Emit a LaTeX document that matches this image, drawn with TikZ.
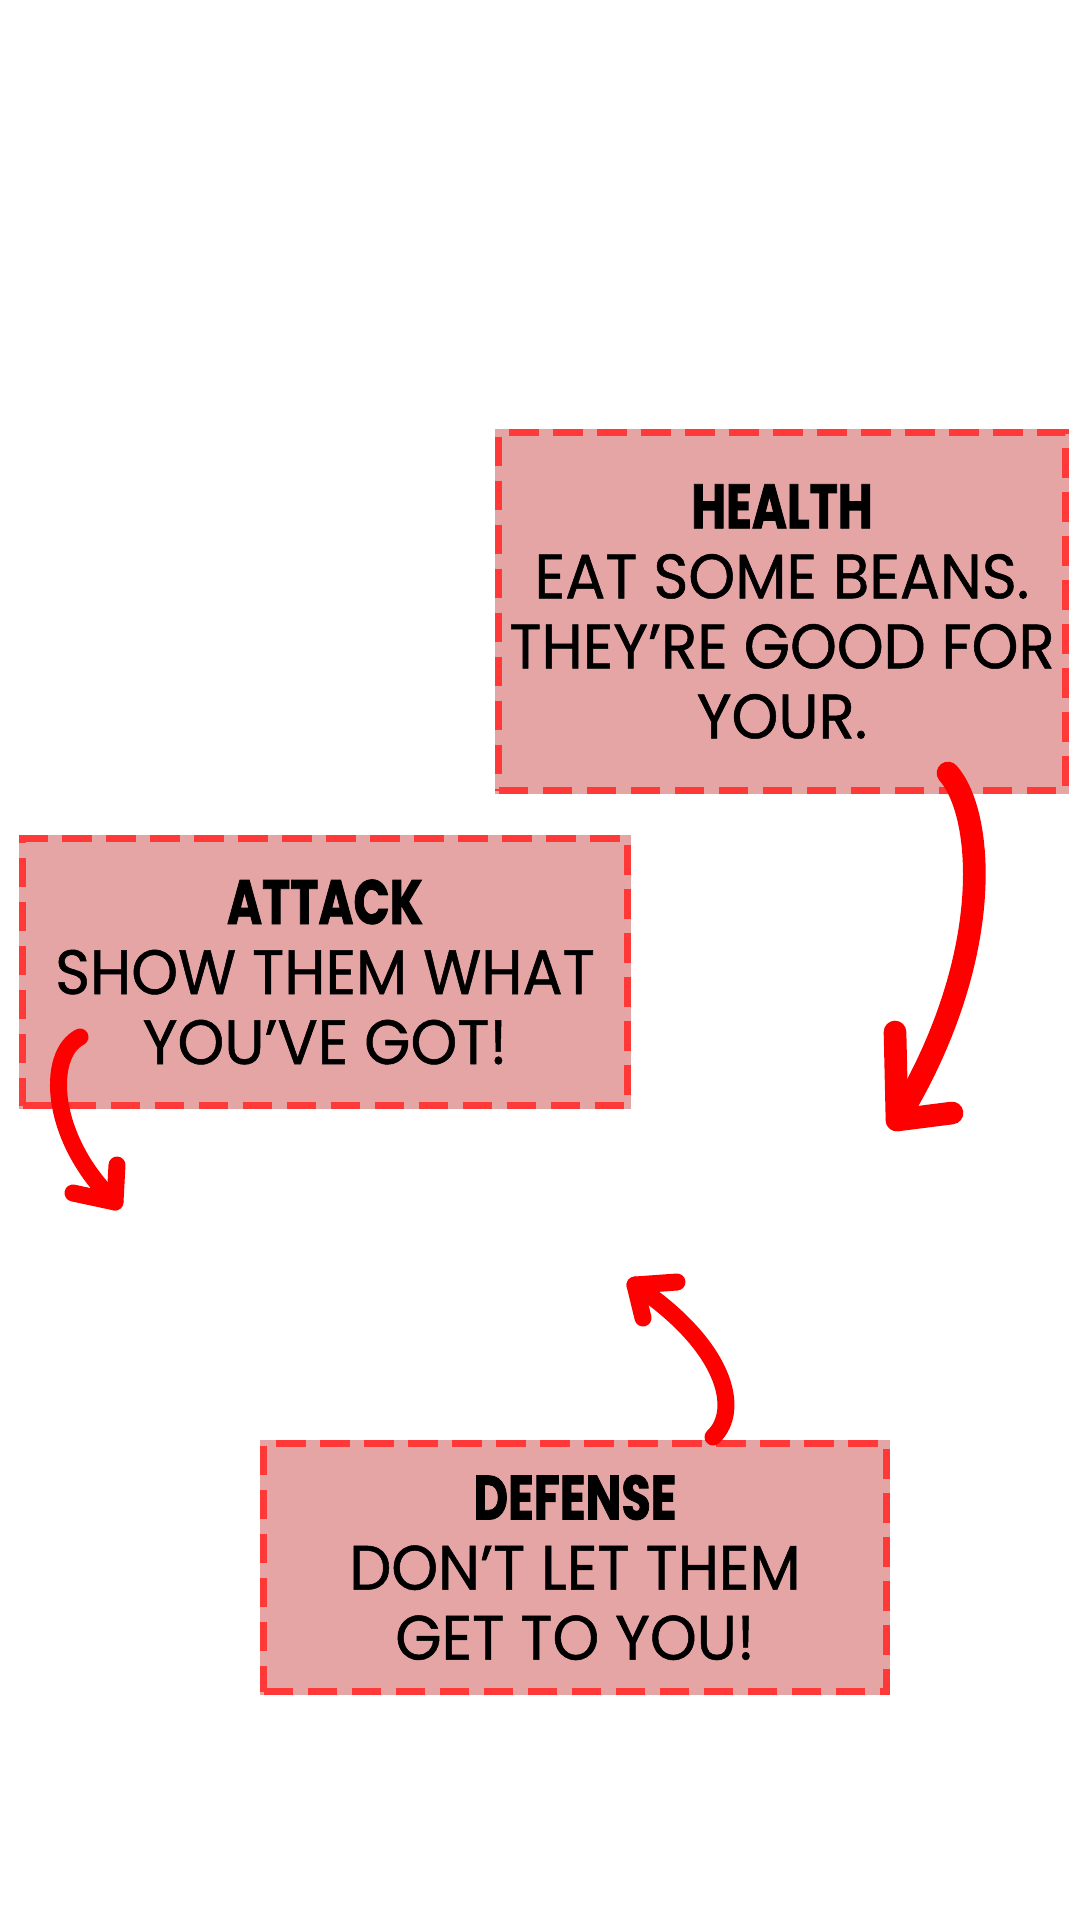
\documentclass[tikz,border=0pt]{standalone}
\usepackage{fontspec}
\setmainfont{Poppins}[FakeStretch=0.95,FakeBold=0.8]
\newfontfamily\brushfont{Poppins}[FakeStretch=0.76,FakeBold=1.2]
\definecolor{cardfill}{RGB}{229,165,165}
\definecolor{cardline}{RGB}{255,56,56}
\definecolor{arrowred}{RGB}{255,0,0}

\begin{document}
\begin{tikzpicture}[x=0.75pt,y=0.75pt,yscale=-1,xscale=1,
        card/.style={preaction={draw=cardfill,solid},fill=cardfill,draw=cardline,line width=5.25pt,dash pattern=on 22pt off 11pt,inner sep=0pt,align=center,font=\fontsize{47}{52.5}\selectfont},
        brush/.style={draw=arrowred,line width=12.75pt,line cap=round,line join=round}]
        %uncomment if require: \path (0,1920); %set diagram left start at 0, and has height of 1920
        \fill[white] (0,0) rectangle (1080,1920);
        \useasboundingbox (0,0) rectangle (1080,1920);

        %Shape: Rectangle [health]
        \node[card,minimum width=425.25pt,minimum height=268.5pt] (health) at (782,611.5) {{\brushfont\bfseries HEALTH}\\EAT SOME BEANS.\\THEY’RE GOOD FOR\\YOUR.};
        %Shape: Rectangle [attack]
        \node[card,minimum width=453.75pt,minimum height=200.25pt] (attack) at (325,972) {{\brushfont\bfseries ATTACK}\\SHOW THEM WHAT\\YOU’VE GOT!};
        %Shape: Rectangle [defense]
        \node[card,minimum width=467.25pt,minimum height=186pt] (defense) at (575,1567.5) {{\brushfont\bfseries DEFENSE}\\DON’T LET THEM\\GET TO YOU!};

        \coordinate (healthOut) at (948,773);
        \coordinate (healthTip) at (897,1120);
        \coordinate (attackOut) at (80,1037);
        \coordinate (attackTip) at (115,1202);
        \coordinate (defenseOut) at (713,1437);
        \coordinate (defenseTip) at (635,1285);

        %Curve Lines [health]
        \draw[brush,line width=17pt] (healthOut) .. controls (985,815) and (995,960) .. (healthTip);
        \draw[brush,line width=17pt] (healthTip) ++(-2,-88) -- (healthTip) -- ++(55,-7);
        %Curve Lines [attack]
        \draw[brush] (attackOut) .. controls (45,1055) and (50,1140) .. (attackTip);
        \draw[brush] (attackTip) ++(2,-37) -- (attackTip) -- ++(-42,-9);
        %Curve Lines [defense]
        \draw[brush] (defenseOut) .. controls (742,1410) and (725,1345) .. (defenseTip);
        \draw[brush] (defenseTip) ++(42,-3) -- (defenseTip) -- ++(8,33);

\end{tikzpicture}
\end{document}
